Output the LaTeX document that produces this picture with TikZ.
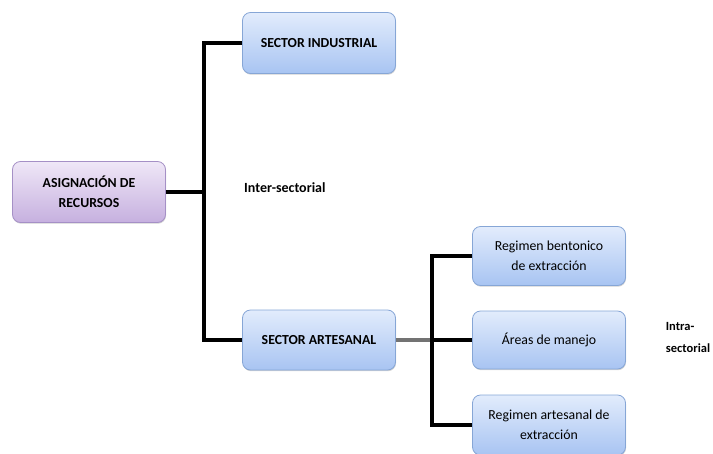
\documentclass[tikz,border=0pt]{standalone}
\usepackage{fontspec}
\setmainfont{Carlito}
\usetikzlibrary{shadows}
\definecolor{bluetop}{HTML}{E2ECFC}
\definecolor{bluebot}{HTML}{A8C4F2}
\definecolor{blueedge}{HTML}{86A6D6}
\definecolor{purtop}{HTML}{EFE7F7}
\definecolor{purbot}{HTML}{C6B0DF}
\definecolor{puredge}{HTML}{A590C6}
\begin{document}
\begin{tikzpicture}[x=1pt,y=-1pt,
  box/.style={rounded corners=8pt, draw=blueedge, line width=0.8pt, top color=bluetop, bottom color=bluebot,
    minimum width=153pt, minimum height=60pt, align=center, font=\fontsize{13.8}{20}\selectfont, inner sep=2pt,
    drop shadow={shadow xshift=0.5pt, shadow yshift=-1.2pt, opacity=0.35}},
  pbox/.style={box, draw=puredge, top color=purtop, bottom color=purbot},
  conn/.style={line width=3.2pt, black},
  lbl/.style={font=\bfseries\fontsize{14}{22}\selectfont, align=left, inner sep=0pt}]
\useasboundingbox (0,0) rectangle (713,453);
\node[pbox, minimum height=61pt] (asig) at (89,192) {\bfseries ASIGNACIÓN DE\\\bfseries RECURSOS};
\node[box, minimum height=61pt] (ind) at (319,43) {\bfseries SECTOR INDUSTRIAL};
\node[box] (art) at (319,340) {\bfseries SECTOR ARTESANAL};
\node[box, minimum height=59pt] (reg) at (549,256) {Regimen bentonico\\de extracción};
\node[box, minimum height=58pt] (areas) at (549,340) {Áreas de manejo};
\node[box] (rega) at (549,425) {Regimen artesanal de\\extracción};
\coordinate (j1) at (204,192);
\coordinate (j2) at (432,340);
\draw[conn] (asig.east) -- (j1);
\draw[conn] (ind.west) -| (j1) |- (art.west);
\draw[line width=3.2pt, black!55] (art.east) -- (j2);
\draw[conn] (j2) -- (areas.west);
\draw[conn] (reg.west) -| (j2) |- (rega.west);
\node[lbl, anchor=west] (inter) at (244,188) {Inter-sectorial};
\node[lbl, font=\bfseries\fontsize{12.5}{22}\selectfont, anchor=center] (intra) at (688,337) {Intra-\\sectorial};
\end{tikzpicture}
\end{document}
